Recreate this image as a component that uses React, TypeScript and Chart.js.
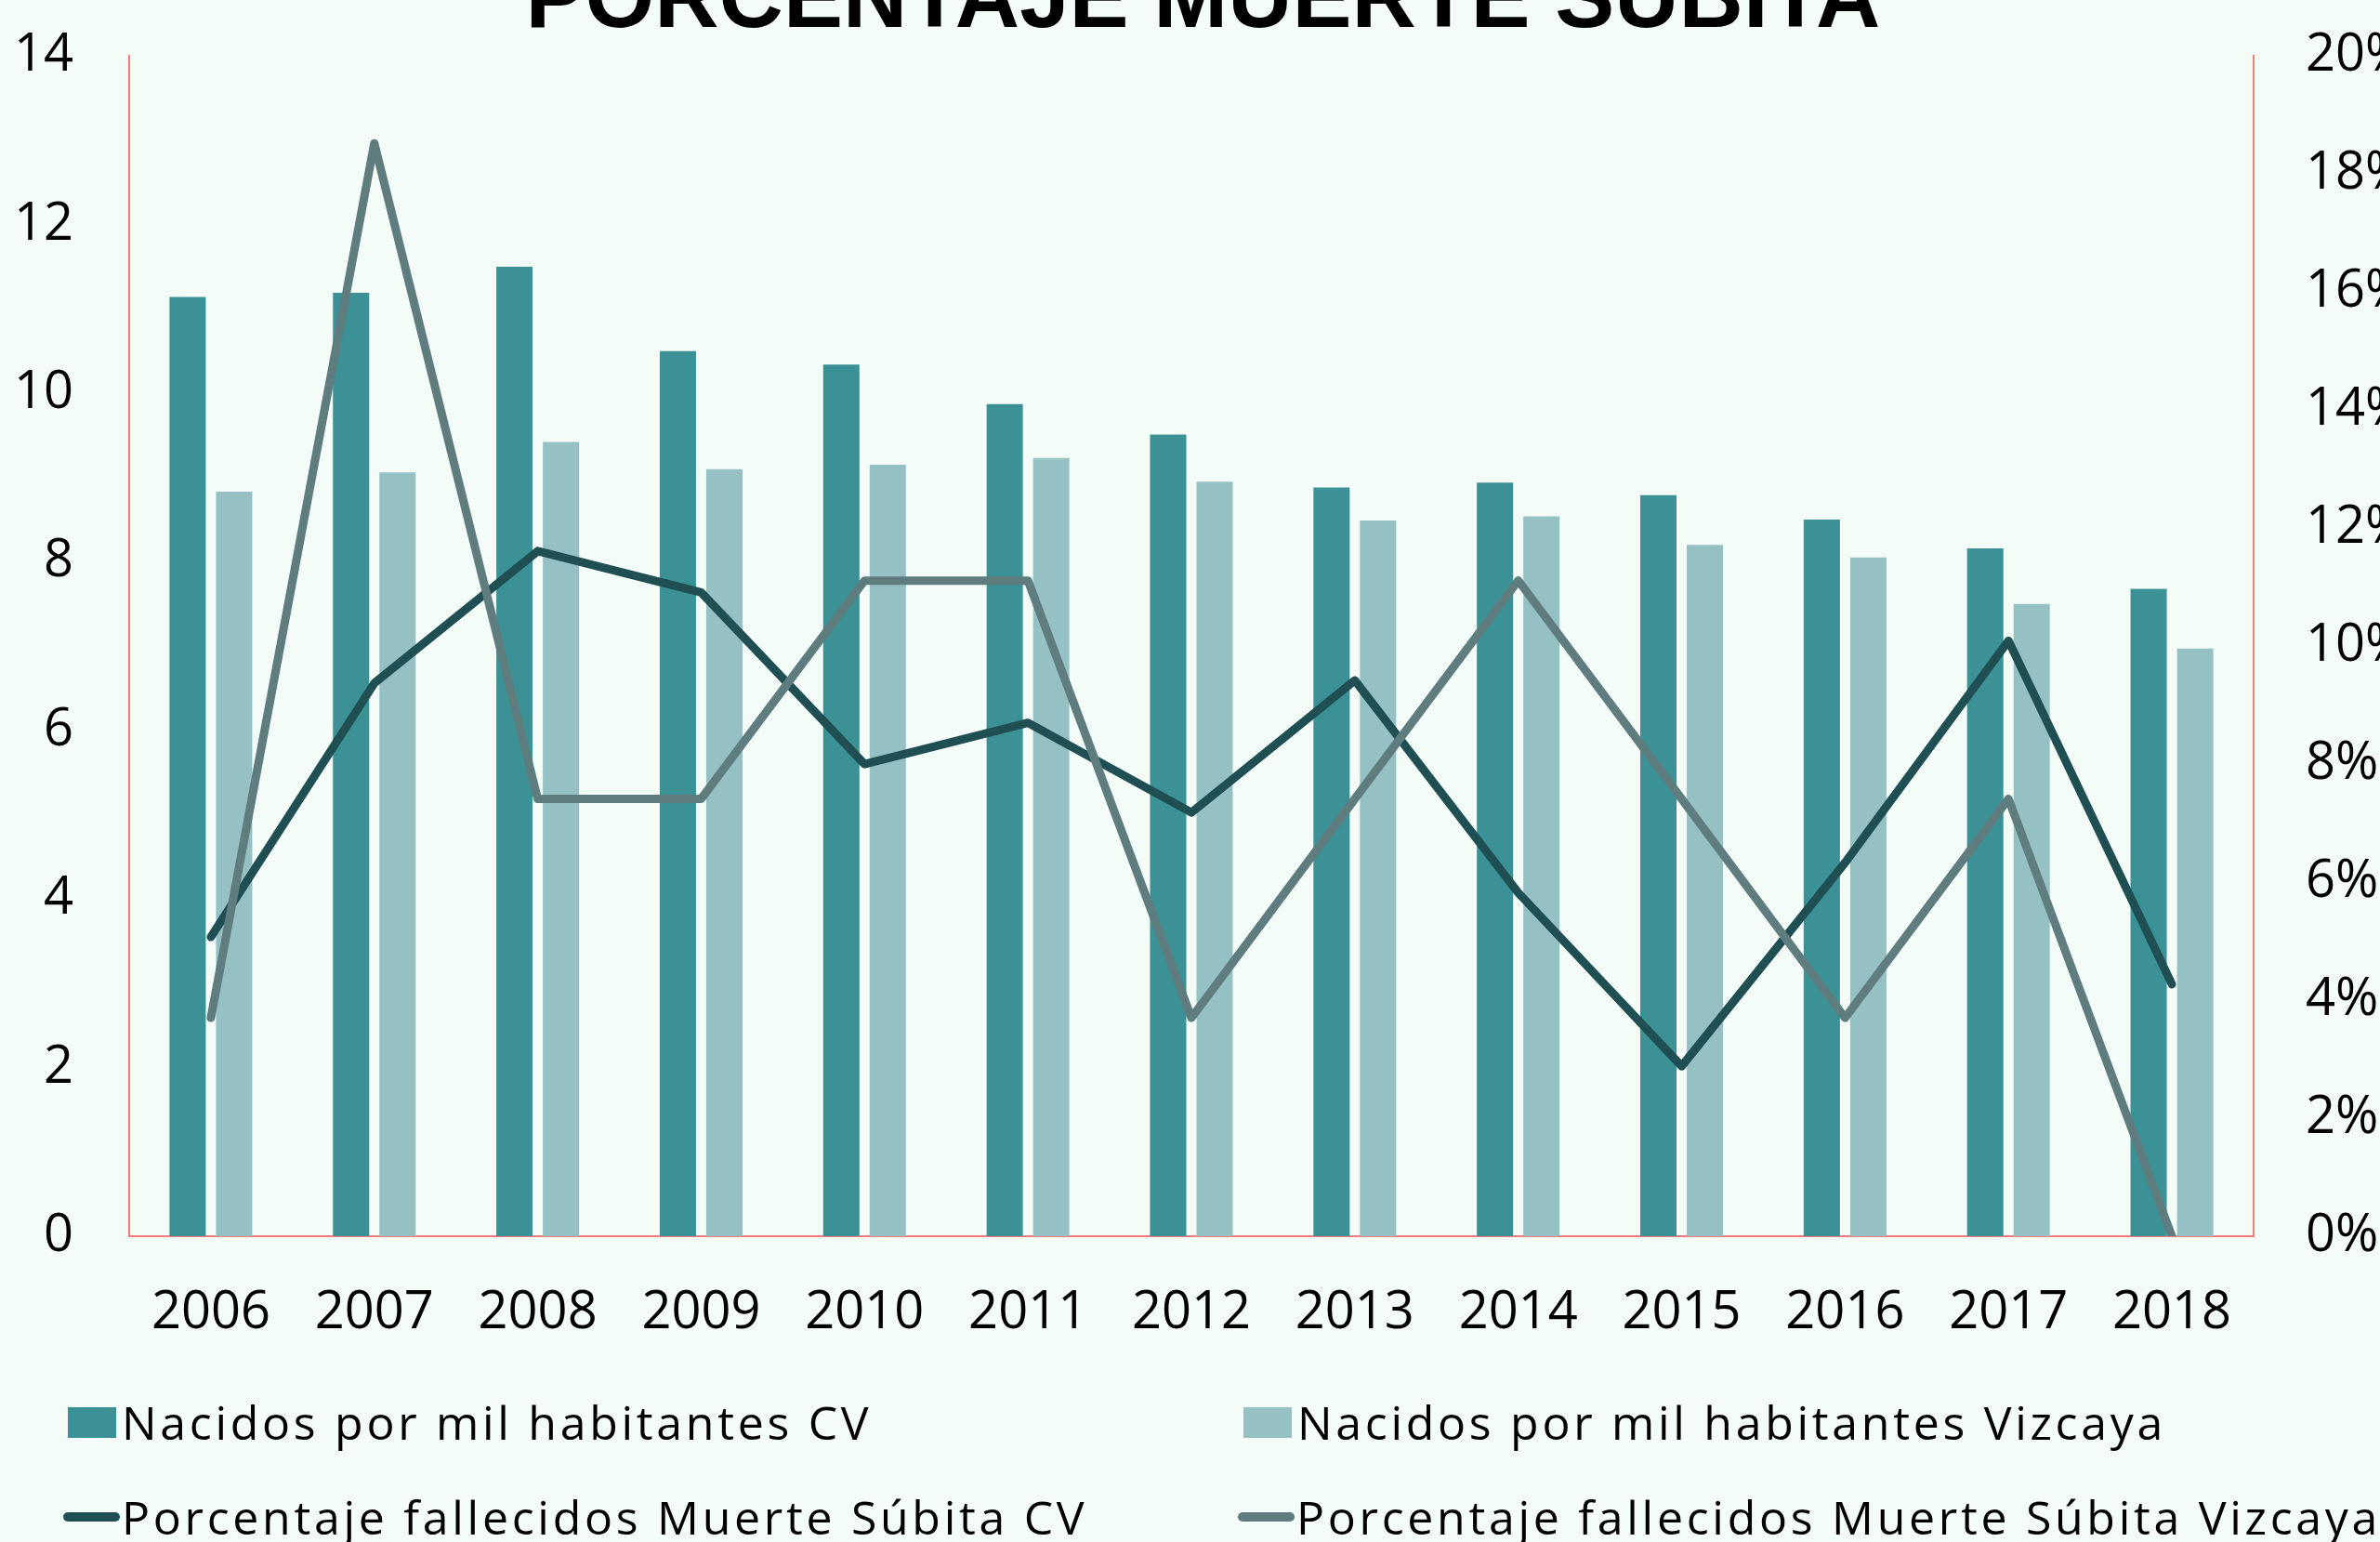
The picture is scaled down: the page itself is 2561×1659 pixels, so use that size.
import React, { useEffect, useRef } from 'react';
import { Chart, registerables } from 'chart.js';

Chart.register(...registerables);

const years = ['2006', '2007', '2008', '2009', '2010', '2011', '2012', '2013', '2014', '2015', '2016', '2017', '2018'];
const nacidosCV = [11.14, 11.19, 11.5, 10.5, 10.34, 9.87, 9.51, 8.88, 8.94, 8.79, 8.5, 8.16, 7.68];
const nacidosVizcaya = [8.83, 9.06, 9.42, 9.1, 9.15, 9.23, 8.95, 8.49, 8.54, 8.2, 8.05, 7.5, 6.97];
const muerteSubitaCV = [5.07, 9.37, 11.61, 10.91, 8.0, 8.7, 7.18, 9.42, 5.82, 2.88, 6.33, 10.09, 4.27];
const muerteSubitaVizcaya = [3.7, 18.52, 7.41, 7.41, 11.11, 11.11, 3.7, 7.41, 11.11, 7.41, 3.7, 7.41, 0];
const seriesLabels = [
  'Nacidos por mil habitantes CV',
  'Nacidos por mil habitantes Vizcaya',
  'Porcentaje fallecidos Muerte Súbita CV',
  'Porcentaje fallecidos Muerte Súbita Vizcaya',
];
const titleText = 'PORCENTAJE MUERTE SÚBITA';

const COL_CV_BAR = '#3B9195';
const COL_VZ_BAR = '#96C1C4';
const COL_CV_LINE = '#1F4F52';
const COL_VZ_LINE = '#5F7D7E';
const AXIS_RED = '#F27C7C';
const BG = '#F3FCF7';
const FONT = "'Open Sans', sans-serif";

const PAGE_W = 2561;
const EXTRA_RIGHT = 28;
const CANVAS_TOP = -63;
const CANVAS_W = PAGE_W + EXTRA_RIGHT;
const CANVAS_H = 1543;

export default function App() {
  const ref = useRef<HTMLCanvasElement>(null);

  useEffect(() => {
    if (!ref.current) return;
    const tickFont = { family: FONT, size: 56 };
    const chart = new Chart(ref.current, {
      type: 'bar',
      data: {
        labels: years,
        datasets: [
          {
            type: 'bar',
            label: seriesLabels[0],
            data: nacidosCV,
            backgroundColor: COL_CV_BAR,
            yAxisID: 'y',
            order: 3,
            categoryPercentage: 0.569,
            barPercentage: 0.78,
          },
          {
            type: 'bar',
            label: seriesLabels[1],
            data: nacidosVizcaya,
            backgroundColor: COL_VZ_BAR,
            yAxisID: 'y',
            order: 4,
            categoryPercentage: 0.569,
            barPercentage: 0.78,
          },
          {
            type: 'line',
            label: seriesLabels[2],
            data: muerteSubitaCV,
            borderColor: COL_CV_LINE,
            backgroundColor: COL_CV_LINE,
            borderWidth: 9,
            borderCapStyle: 'round',
            borderJoinStyle: 'round',
            pointRadius: 0,
            tension: 0,
            yAxisID: 'y1',
            order: 2,
          },
          {
            type: 'line',
            label: seriesLabels[3],
            data: muerteSubitaVizcaya,
            borderColor: COL_VZ_LINE,
            backgroundColor: COL_VZ_LINE,
            borderWidth: 9,
            borderCapStyle: 'round',
            borderJoinStyle: 'round',
            pointRadius: 0,
            tension: 0,
            yAxisID: 'y1',
            order: 1,
          },
        ],
      } as any,
      options: {
        responsive: false,
        animation: false,
        layout: { padding: { top: 0, bottom: 42, left: 0, right: 0 } },
        plugins: {
          legend: { display: false },
          tooltip: { enabled: false },
          title: {
            display: true,
            text: titleText,
            color: '#000',
            font: { family: "'Liberation Sans', Arial, sans-serif", size: 96, weight: 'bold', lineHeight: 1.2 },
            padding: { top: 8, bottom: 0 },
          },
        },
        scales: {
          x: {
            offset: true,
            grid: { display: false },
            border: { display: true, color: AXIS_RED, width: 2 },
            ticks: { color: '#000', font: tickFont, padding: 41, maxRotation: 0 },
            afterFit: (s: any) => {
              s.height = 108;
            },
          },
          y: {
            position: 'left',
            min: 0,
            max: 14,
            grid: { display: false },
            border: { display: true, color: AXIS_RED, width: 2 },
            ticks: { stepSize: 2, color: '#000', font: tickFont, padding: 52 },
            afterFit: (s: any) => {
              s.width = 139;
            },
          },
          y1: {
            position: 'right',
            min: 0,
            max: 20,
            grid: { display: false },
            border: { display: true, color: AXIS_RED, width: 2 },
            ticks: {
              stepSize: 2,
              color: '#000',
              font: tickFont,
              padding: 48,
              callback: (v: any) => `${v}%`,
            },
            afterFit: (s: any) => {
              s.width = 136 + EXTRA_RIGHT;
            },
          },
        },
      } as any,
    });
    return () => chart.destroy();
  }, []);

  const legendItems = [
    { label: seriesLabels[0], color: COL_CV_BAR, kind: 'box', left: 73, center: 1530 },
    { label: seriesLabels[1], color: COL_VZ_BAR, kind: 'box', left: 1338, center: 1530 },
    { label: seriesLabels[2], color: COL_CV_LINE, kind: 'line', left: 68, center: 1632 },
    { label: seriesLabels[3], color: COL_VZ_LINE, kind: 'line', left: 1332, center: 1632 },
  ];

  return (
    <div
      style={{
        position: 'absolute',
        left: 0,
        top: 0,
        width: PAGE_W,
        height: 1659,
        overflow: 'hidden',
        background: BG,
      }}
    >
      <canvas
        ref={ref}
        width={CANVAS_W}
        height={CANVAS_H}
        style={{ position: 'absolute', left: 0, top: CANVAS_TOP, width: CANVAS_W, height: CANVAS_H }}
      />
      {legendItems.map((it) => (
        <div
          key={it.label}
          style={{
            position: 'absolute',
            left: it.left,
            top: it.center - 30,
            height: 60,
            display: 'flex',
            alignItems: 'center',
            whiteSpace: 'nowrap',
            fontFamily: FONT,
            fontSize: 50,
            letterSpacing: '3.7px',
            lineHeight: '60px',
            color: '#000',
          }}
        >
          {it.kind === 'box' ? (
            <span style={{ display: 'inline-block', width: 52, height: 33, background: it.color, marginRight: 6 }} />
          ) : (
            <span
              style={{
                display: 'inline-block',
                width: 61,
                height: 10,
                borderRadius: 5,
                background: it.color,
                marginRight: 2,
              }}
            />
          )}
          <span>{it.label}</span>
        </div>
      ))}
    </div>
  );
}
